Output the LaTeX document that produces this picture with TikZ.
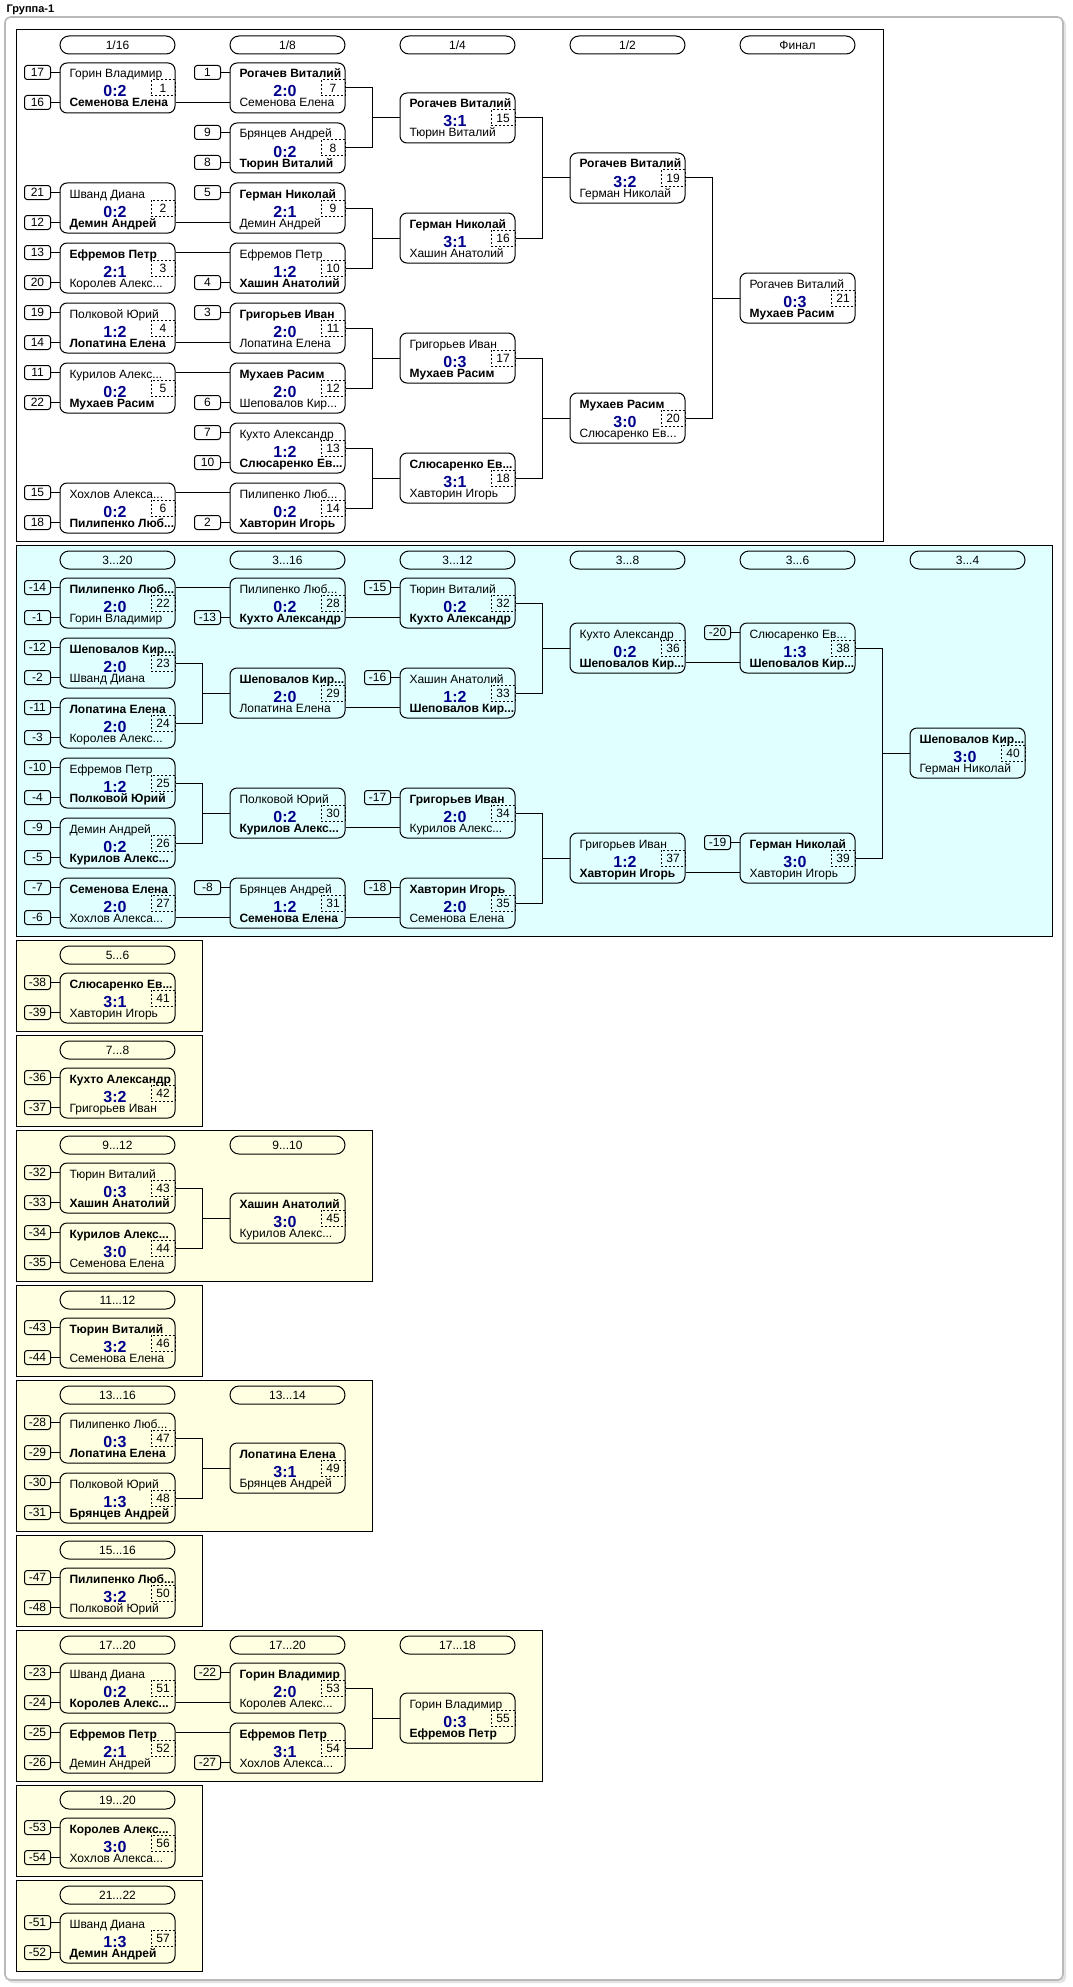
\documentclass[tikz,border=0pt]{standalone}
\usepackage{fontspec}
\setmainfont{Liberation Sans}
\usetikzlibrary{calc}
\definecolor{scblue}{RGB}{0,0,140}
\definecolor{pcyan}{RGB}{224,255,255}
\definecolor{pyellow}{RGB}{255,255,226}
\newcommand\fsn{\fontsize{9}{10}\selectfont}
\newcommand\fscore{\fontsize{12}{13}\selectfont\bfseries}
\newcommand\bnm[1]{\textbf{#1}}
\tikzset{
  mbox/.style={draw, rounded corners=5.25pt, minimum width=86.25pt, minimum height=37.5pt, inner sep=0pt},
  nbox/.style={draw, dash pattern=on 1.5pt off 1.5pt, minimum width=18pt, minimum height=12pt, inner sep=0pt, font=\fsn},
  seedbox/.style={draw, rounded corners=2pt, minimum width=19.5pt, minimum height=10.5pt, inner sep=0pt, font=\fsn},
  hdrbox/.style={draw, rounded corners=6.75pt, minimum width=86.25pt, minimum height=13.5pt, inner sep=0pt, font=\fsn},
  nm/.style={inner sep=0pt, font=\fsn, anchor=base west},
  sc/.style={inner sep=0pt, font=\fscore, text=scblue, anchor=base},
  panelbox/.style={draw, line width=0.75pt},
}
% match: id, x, y0, top, score, bottom
\newcommand\mt[6]{%
  \node[mbox] (m#1) at (#2+57.5,#3+25) {};
  \node[nbox] (n#1) at (#2+103,#3+25) {#1};
  \node[nm] (m#1t) at (#2+9,#3+15) {#4};
  \node[sc] (m#1s) at (#2+55,#3+34) {#5};
  \node[nm] (m#1b) at (#2+9,#3+44) {#6};
}
\newcommand\sdt[2]{%
  \node[seedbox] (st#1) at ($(m#1.north west)+(-22,10)$) {#2};
  \draw (st#1.east) -- (st#1.east -| m#1.west);
}
\newcommand\sdb[2]{%
  \node[seedbox] (sb#1) at ($(m#1.north west)+(-22,40)$) {#2};
  \draw (sb#1.east) -- (sb#1.east -| m#1.west);
}
\newcommand\sds[3]{\sdt{#1}{#2}\sdb{#1}{#3}}
\newcommand\wln[3]{%
  \coordinate (wl#1) at ($(m#2.north west)+(0,#3)$);
  \draw (m#1.east |- wl#1) -- (wl#1);
}
\newcommand\brk[3]{%
  \draw (m#1.east) -- ++(27,0) |- (m#2.east);
  \draw (m#3.west) -- ++(-28,0);
}
\newcommand\hdx[4]{\node[hdrbox] (h#1) at (#2+57.5,#3+15) {#4};}
\newcommand\pnl[4]{\draw[panelbox, fill=#4] (16,#1) rectangle (#3,#2);}
\begin{document}
\begin{tikzpicture}[x=0.75pt, y=-0.75pt, line width=0.75pt]
\useasboundingbox (0,0) rectangle (1073,1987);
\fill[white] (0,0) rectangle (1073,1987);
% outer frame
\fill[gray!22, rounded corners=4pt] (7,19) rectangle (1066,1983);
\draw[gray!55, fill=white, rounded corners=4pt, line width=1.2pt] (5,17) rectangle (1063,1980);
\node[inner sep=0pt, anchor=base west, font=\fontsize{8.25}{9}\selectfont\bfseries] (title) at (6,13) {Группа-1};

% ===== Panel 1 =====
\pnl{30}{541}{883}{white}
\hdx{a1}{60}{30}{1/16}
\hdx{a2}{230}{30}{1/8}
\hdx{a3}{400}{30}{1/4}
\hdx{a4}{570}{30}{1/2}
\hdx{a5}{740}{30}{Финал}
\mt{1}{60}{63}{Горин Владимир}{0:2}{\bnm{Семенова Елена}}
\mt{2}{60}{183}{Шванд Диана}{0:2}{\bnm{Демин Андрей}}
\mt{3}{60}{243}{\bnm{Ефремов Петр}}{2:1}{Королев Алекс...}
\mt{4}{60}{303}{Полковой Юрий}{1:2}{\bnm{Лопатина Елена}}
\mt{5}{60}{363}{Курилов Алекс...}{0:2}{\bnm{Мухаев Расим}}
\mt{6}{60}{483}{Хохлов Алекса...}{0:2}{\bnm{Пилипенко Люб...}}
\mt{7}{230}{63}{\bnm{Рогачев Виталий}}{2:0}{Семенова Елена}
\mt{8}{230}{123}{Брянцев Андрей}{0:2}{\bnm{Тюрин Виталий}}
\mt{9}{230}{183}{\bnm{Герман Николай}}{2:1}{Демин Андрей}
\mt{10}{230}{243}{Ефремов Петр}{1:2}{\bnm{Хашин Анатолий}}
\mt{11}{230}{303}{\bnm{Григорьев Иван}}{2:0}{Лопатина Елена}
\mt{12}{230}{363}{\bnm{Мухаев Расим}}{2:0}{Шеповалов Кир...}
\mt{13}{230}{423}{Кухто Александр}{1:2}{\bnm{Слюсаренко Ев...}}
\mt{14}{230}{483}{Пилипенко Люб...}{0:2}{\bnm{Хавторин Игорь}}
\mt{15}{400}{93}{\bnm{Рогачев Виталий}}{3:1}{Тюрин Виталий}
\mt{16}{400}{213}{\bnm{Герман Николай}}{3:1}{Хашин Анатолий}
\mt{17}{400}{333}{Григорьев Иван}{0:3}{\bnm{Мухаев Расим}}
\mt{18}{400}{453}{\bnm{Слюсаренко Ев...}}{3:1}{Хавторин Игорь}
\mt{19}{570}{153}{\bnm{Рогачев Виталий}}{3:2}{Герман Николай}
\mt{20}{570}{393}{\bnm{Мухаев Расим}}{3:0}{Слюсаренко Ев...}
\mt{21}{740}{273}{Рогачев Виталий}{0:3}{\bnm{Мухаев Расим}}
\sds{1}{17}{16}
\sds{2}{21}{12}
\sds{3}{13}{20}
\sds{4}{19}{14}
\sds{5}{11}{22}
\sds{6}{15}{18}
\sdt{7}{1}
\sds{8}{9}{8}
\sdt{9}{5}
\sdb{10}{4}
\sdt{11}{3}
\sdb{12}{6}
\sds{13}{7}{10}
\sdb{14}{2}
\wln{1}{7}{40}
\wln{2}{9}{40}
\wln{3}{10}{10}
\wln{4}{11}{40}
\wln{5}{12}{10}
\wln{6}{14}{10}
\brk{7}{8}{15}
\brk{9}{10}{16}
\brk{11}{12}{17}
\brk{13}{14}{18}
\brk{15}{16}{19}
\brk{17}{18}{20}
\brk{19}{20}{21}

% ===== Panel 2 (3...20) =====
\pnl{545}{936}{1052}{pcyan}
\hdx{b1}{60}{545}{3...20}
\hdx{b2}{230}{545}{3...16}
\hdx{b3}{400}{545}{3...12}
\hdx{b4}{570}{545}{3...8}
\hdx{b5}{740}{545}{3...6}
\hdx{b6}{910}{545}{3...4}
\mt{22}{60}{578}{\bnm{Пилипенко Люб...}}{2:0}{Горин Владимир}
\mt{23}{60}{638}{\bnm{Шеповалов Кир...}}{2:0}{Шванд Диана}
\mt{24}{60}{698}{\bnm{Лопатина Елена}}{2:0}{Королев Алекс...}
\mt{25}{60}{758}{Ефремов Петр}{1:2}{\bnm{Полковой Юрий}}
\mt{26}{60}{818}{Демин Андрей}{0:2}{\bnm{Курилов Алекс...}}
\mt{27}{60}{878}{\bnm{Семенова Елена}}{2:0}{Хохлов Алекса...}
\mt{28}{230}{578}{Пилипенко Люб...}{0:2}{\bnm{Кухто Александр}}
\mt{29}{230}{668}{\bnm{Шеповалов Кир...}}{2:0}{Лопатина Елена}
\mt{30}{230}{788}{Полковой Юрий}{0:2}{\bnm{Курилов Алекс...}}
\mt{31}{230}{878}{Брянцев Андрей}{1:2}{\bnm{Семенова Елена}}
\mt{32}{400}{578}{Тюрин Виталий}{0:2}{\bnm{Кухто Александр}}
\mt{33}{400}{668}{Хашин Анатолий}{1:2}{\bnm{Шеповалов Кир...}}
\mt{34}{400}{788}{\bnm{Григорьев Иван}}{2:0}{Курилов Алекс...}
\mt{35}{400}{878}{\bnm{Хавторин Игорь}}{2:0}{Семенова Елена}
\mt{36}{570}{623}{Кухто Александр}{0:2}{\bnm{Шеповалов Кир...}}
\mt{37}{570}{833}{Григорьев Иван}{1:2}{\bnm{Хавторин Игорь}}
\mt{38}{740}{623}{Слюсаренко Ев...}{1:3}{\bnm{Шеповалов Кир...}}
\mt{39}{740}{833}{\bnm{Герман Николай}}{3:0}{Хавторин Игорь}
\mt{40}{910}{728}{\bnm{Шеповалов Кир...}}{3:0}{Герман Николай}
\sds{22}{-14}{-1}
\sds{23}{-12}{-2}
\sds{24}{-11}{-3}
\sds{25}{-10}{-4}
\sds{26}{-9}{-5}
\sds{27}{-7}{-6}
\sdb{28}{-13}
\sdt{31}{-8}
\sdt{32}{-15}
\sdt{33}{-16}
\sdt{34}{-17}
\sdt{35}{-18}
\sdt{38}{-20}
\sdt{39}{-19}
\wln{22}{28}{10}
\wln{27}{31}{40}
\wln{28}{32}{40}
\wln{29}{33}{40}
\wln{30}{34}{40}
\wln{31}{35}{40}
\wln{36}{38}{40}
\wln{37}{39}{40}
\brk{23}{24}{29}
\brk{25}{26}{30}
\brk{32}{33}{36}
\brk{34}{35}{37}
\brk{38}{39}{40}

% ===== 5...6 =====
\pnl{940}{1031}{202}{pyellow}
\hdx{c1}{60}{940}{5...6}
\mt{41}{60}{973}{\bnm{Слюсаренко Ев...}}{3:1}{Хавторин Игорь}
\sds{41}{-38}{-39}

% ===== 7...8 =====
\pnl{1035}{1126}{202}{pyellow}
\hdx{d1}{60}{1035}{7...8}
\mt{42}{60}{1068}{\bnm{Кухто Александр}}{3:2}{Григорьев Иван}
\sds{42}{-36}{-37}

% ===== 9...12 =====
\pnl{1130}{1281}{372}{pyellow}
\hdx{e1}{60}{1130}{9...12}
\hdx{e2}{230}{1130}{9...10}
\mt{43}{60}{1163}{Тюрин Виталий}{0:3}{\bnm{Хашин Анатолий}}
\mt{44}{60}{1223}{\bnm{Курилов Алекс...}}{3:0}{Семенова Елена}
\mt{45}{230}{1193}{\bnm{Хашин Анатолий}}{3:0}{Курилов Алекс...}
\sds{43}{-32}{-33}
\sds{44}{-34}{-35}
\brk{43}{44}{45}

% ===== 11...12 =====
\pnl{1285}{1376}{202}{pyellow}
\hdx{f1}{60}{1285}{11...12}
\mt{46}{60}{1318}{\bnm{Тюрин Виталий}}{3:2}{Семенова Елена}
\sds{46}{-43}{-44}

% ===== 13...16 =====
\pnl{1380}{1531}{372}{pyellow}
\hdx{g1}{60}{1380}{13...16}
\hdx{g2}{230}{1380}{13...14}
\mt{47}{60}{1413}{Пилипенко Люб...}{0:3}{\bnm{Лопатина Елена}}
\mt{48}{60}{1473}{Полковой Юрий}{1:3}{\bnm{Брянцев Андрей}}
\mt{49}{230}{1443}{\bnm{Лопатина Елена}}{3:1}{Брянцев Андрей}
\sds{47}{-28}{-29}
\sds{48}{-30}{-31}
\brk{47}{48}{49}

% ===== 15...16 =====
\pnl{1535}{1626}{202}{pyellow}
\hdx{k1}{60}{1535}{15...16}
\mt{50}{60}{1568}{\bnm{Пилипенко Люб...}}{3:2}{Полковой Юрий}
\sds{50}{-47}{-48}

% ===== 17...20 =====
\pnl{1630}{1781}{542}{pyellow}
\hdx{l1}{60}{1630}{17...20}
\hdx{l2}{230}{1630}{17...20}
\hdx{l3}{400}{1630}{17...18}
\mt{51}{60}{1663}{Шванд Диана}{0:2}{\bnm{Королев Алекс...}}
\mt{52}{60}{1723}{\bnm{Ефремов Петр}}{2:1}{Демин Андрей}
\mt{53}{230}{1663}{\bnm{Горин Владимир}}{2:0}{Королев Алекс...}
\mt{54}{230}{1723}{\bnm{Ефремов Петр}}{3:1}{Хохлов Алекса...}
\mt{55}{400}{1693}{Горин Владимир}{0:3}{\bnm{Ефремов Петр}}
\sds{51}{-23}{-24}
\sds{52}{-25}{-26}
\sdt{53}{-22}
\sdb{54}{-27}
\wln{51}{53}{40}
\wln{52}{54}{10}
\brk{53}{54}{55}

% ===== 19...20 =====
\pnl{1785}{1876}{202}{pyellow}
\hdx{p1}{60}{1785}{19...20}
\mt{56}{60}{1818}{\bnm{Королев Алекс...}}{3:0}{Хохлов Алекса...}
\sds{56}{-53}{-54}

% ===== 21...22 =====
\pnl{1880}{1971}{202}{pyellow}
\hdx{q1}{60}{1880}{21...22}
\mt{57}{60}{1913}{Шванд Диана}{1:3}{\bnm{Демин Андрей}}
\sds{57}{-51}{-52}
\end{tikzpicture}
\end{document}
